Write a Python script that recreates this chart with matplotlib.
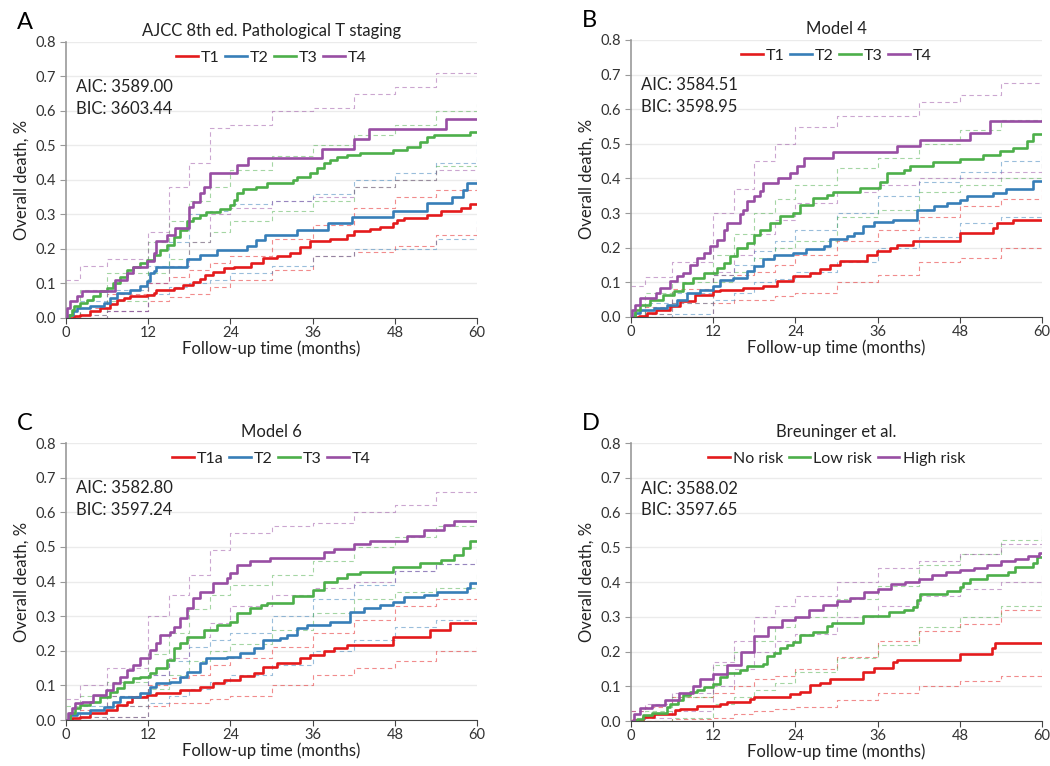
import matplotlib
matplotlib.use("Agg")
import matplotlib.pyplot as plt

plt.rcParams['font.family'] = ['Lato', 'DejaVu Sans']

# colours of the four risk groups
red = '#E41A1C'
blue = '#377EB8'
green = '#4DAF4A'
purple = '#984EA3'

# ---- panel A : AJCC 8th ed. ----
a_t1_t = [0, 1.1, 2, 3.5, 5, 6.4, 7.4, 8.4, 9.4, 11.8, 12.8, 13.2, 15.7, 17.1, 18.6, 19.6, 20.3, 21.5, 23, 24.5,
          27, 28.8, 30.8, 32.7, 34.2, 35.6, 38.6, 41, 42, 44.4, 45.9, 47.8, 48.3, 49.3, 52.7, 54.7, 57.6, 59]
a_t1_y = [0, 0.005, 0.01, 0.02, 0.03, 0.04, 0.053, 0.058, 0.065, 0.068, 0.072, 0.082, 0.087, 0.096, 0.103, 0.113, 0.125, 0.132, 0.145, 0.149,
          0.159, 0.173, 0.18, 0.188, 0.207, 0.222, 0.228, 0.241, 0.251, 0.257, 0.265, 0.275, 0.284, 0.289, 0.299, 0.311, 0.318, 0.331]
a_t2_t = [0, 0.5, 1, 1.6, 3.5, 5.5, 6.4, 7.4, 9.4, 10.8, 11.8, 12.3, 12.8, 13.2, 17.6, 19.6, 22, 26.4, 27.8, 29,
          33.7, 38.3, 41.7, 47.8, 52.7, 56.4, 58, 58.6]
a_t2_y = [0, 0.01, 0.02, 0.029, 0.036, 0.043, 0.058, 0.072, 0.082, 0.092, 0.106, 0.13, 0.135, 0.149, 0.171, 0.183, 0.198, 0.209, 0.227, 0.241,
          0.255, 0.275, 0.292, 0.311, 0.333, 0.352, 0.371, 0.392]
a_t3_t = [0, 0.5, 0.8, 1.1, 2, 3, 4, 5, 6, 6.9, 7.9, 8.9, 9.8, 10.8, 11.8, 12.8, 13.7, 14.7, 15.7, 16.7,
          17.6, 18.6, 19.6, 20.5, 22.5, 24, 24.5, 25, 25.9, 27.8, 29.3, 33.2, 33.7, 35.6, 36.6, 37.6, 38.6, 39.5, 41, 42.9,
          47.8, 49.8, 51.7, 52.7, 53.7, 59]
a_t3_y = [0, 0.01, 0.024, 0.035, 0.043, 0.053, 0.063, 0.077, 0.087, 0.1, 0.12, 0.14, 0.149, 0.159, 0.169, 0.183, 0.198, 0.212, 0.236, 0.255,
          0.28, 0.289, 0.299, 0.308, 0.315, 0.328, 0.342, 0.361, 0.373, 0.381, 0.392, 0.4, 0.41, 0.419, 0.434, 0.448, 0.458, 0.467, 0.472, 0.477,
          0.487, 0.496, 0.511, 0.525, 0.53, 0.54]
a_t4_t = [0, 0.2, 0.6, 1.6, 2.3, 7.2, 8.9, 9.8, 11.8, 12.8, 13.2, 14.7, 15.9, 17.9, 18.6, 19.6, 20.1, 21, 25, 26.6,
          37.4, 42, 44.2, 55.4]
a_t4_y = [0, 0.03, 0.048, 0.063, 0.077, 0.11, 0.13, 0.149, 0.164, 0.188, 0.222, 0.241, 0.26, 0.321, 0.337, 0.361, 0.381, 0.421, 0.443, 0.465,
          0.489, 0.518, 0.547, 0.578]

# confidence bands, read on a common time grid
ci_t = [0, 2, 6, 12, 15, 18, 21, 24, 30, 36, 42, 48, 54, 60]
a_t1_lo = [0, 0, 0.02, 0.05, 0.06, 0.07, 0.09, 0.11, 0.14, 0.18, 0.19, 0.21, 0.24, 0.27]
a_t1_hi = [0, 0.03, 0.07, 0.1, 0.12, 0.14, 0.16, 0.18, 0.23, 0.27, 0.32, 0.35, 0.37, 0.40]
a_t2_lo = [0, 0, 0.02, 0.07, 0.09, 0.1, 0.11, 0.13, 0.15, 0.18, 0.2, 0.2, 0.23, 0.28]
a_t2_hi = [0, 0.05, 0.08, 0.15, 0.22, 0.3, 0.31, 0.33, 0.34, 0.36, 0.4, 0.42, 0.45, 0.52]
a_t3_lo = [0, 0.01, 0.05, 0.13, 0.17, 0.22, 0.25, 0.28, 0.31, 0.34, 0.38, 0.4, 0.44, 0.46]
a_t3_hi = [0, 0.08, 0.13, 0.22, 0.28, 0.34, 0.38, 0.43, 0.47, 0.5, 0.53, 0.56, 0.6, 0.62]
a_t4_lo = [0, 0.01, 0.02, 0.1, 0.15, 0.22, 0.3, 0.32, 0.34, 0.35, 0.38, 0.4, 0.43, 0.43]
a_t4_hi = [0.11, 0.15, 0.17, 0.25, 0.38, 0.45, 0.55, 0.56, 0.6, 0.61, 0.65, 0.67, 0.71, 0.71]

# ---- panel B : Model 4 ----
b_t1_t = [0, 1.1, 2.3, 3.7, 5.7, 7.2, 9.3, 12, 13, 16.4, 19.3, 21.3, 23.7, 26.1, 27.6, 29, 30.5, 34.4, 35.9, 37.8,
          38.8, 41.2, 48, 52.9, 53.4, 55.8]
b_t1_y = [0, 0.004, 0.012, 0.021, 0.031, 0.045, 0.063, 0.074, 0.079, 0.084, 0.09, 0.103, 0.117, 0.127, 0.139, 0.151, 0.161, 0.18, 0.19, 0.199,
          0.209, 0.219, 0.243, 0.257, 0.27, 0.281]
b_t2_t = [0, 0.6, 1.3, 3.3, 5.2, 6.7, 8.1, 10, 12, 13, 14.9, 16.9, 17.9, 19.3, 20.8, 23.7, 25.6, 28.1, 29, 31.5,
          32.5, 33.9, 35.4, 38.3, 41.7, 44.2, 46.1, 48, 49, 52.9, 54.8, 58.7]
b_t2_y = [0, 0.012, 0.021, 0.026, 0.036, 0.05, 0.069, 0.079, 0.089, 0.108, 0.113, 0.132, 0.146, 0.166, 0.18, 0.185, 0.196, 0.204, 0.225, 0.233,
          0.243, 0.262, 0.273, 0.281, 0.31, 0.32, 0.329, 0.339, 0.348, 0.358, 0.371, 0.392]
b_t3_t = [0, 0.6, 1.3, 2.8, 4.7, 6.2, 7.6, 9.1, 10.6, 12.5, 13.5, 14.5, 15.4, 16.9, 17.9, 18.8, 20.3, 21.8, 23.7, 24.7,
          26.6, 28.6, 29.5, 33.4, 36.3, 37.3, 39.8, 40.7, 44.1, 48, 51.4, 53.9, 55.8, 57.8, 58.7]
b_t3_y = [0, 0.021, 0.036, 0.05, 0.064, 0.074, 0.098, 0.113, 0.127, 0.142, 0.156, 0.175, 0.199, 0.214, 0.238, 0.252, 0.271, 0.291, 0.3, 0.322,
          0.344, 0.353, 0.36, 0.373, 0.389, 0.416, 0.425, 0.435, 0.447, 0.456, 0.469, 0.478, 0.488, 0.507, 0.529]
b_t4_t = [0, 0.2, 0.6, 1.3, 3.7, 4.2, 5.7, 6.7, 7.6, 8.6, 9.6, 10.6, 11.5, 12.5, 13.5, 14, 15.9, 16.4, 16.9, 17.9,
          18.8, 19.3, 21.5, 23.2, 24.2, 25.2, 29.5, 38.8, 42.2, 49.5, 52.4]
b_t4_y = [0, 0.021, 0.036, 0.055, 0.069, 0.084, 0.103, 0.117, 0.127, 0.151, 0.17, 0.185, 0.204, 0.223, 0.252, 0.271, 0.296, 0.31, 0.334, 0.348,
          0.363, 0.387, 0.401, 0.416, 0.435, 0.459, 0.476, 0.493, 0.512, 0.531, 0.566]
b_t1_lo = [0, 0, 0, 0.04, 0.05, 0.05, 0.06, 0.07, 0.1, 0.12, 0.16, 0.17, 0.2, 0.205]
b_t1_hi = [0, 0.03, 0.08, 0.12, 0.12, 0.13, 0.15, 0.18, 0.22, 0.25, 0.29, 0.32, 0.34, 0.37]
b_t2_lo = [0, 0, 0.01, 0.05, 0.07, 0.1, 0.11, 0.13, 0.16, 0.2, 0.23, 0.27, 0.29, 0.31]
b_t2_hi = [0, 0.04, 0.07, 0.12, 0.15, 0.19, 0.22, 0.25, 0.3, 0.35, 0.39, 0.42, 0.45, 0.48]
b_t3_lo = [0, 0.01, 0.04, 0.1, 0.13, 0.17, 0.2, 0.22, 0.29, 0.31, 0.36, 0.38, 0.4, 0.45]
b_t3_hi = [0, 0.07, 0.1, 0.18, 0.24, 0.3, 0.34, 0.38, 0.43, 0.46, 0.5, 0.54, 0.57, 0.61]
b_t4_lo = [0, 0.01, 0.04, 0.13, 0.18, 0.24, 0.28, 0.33, 0.36, 0.38, 0.4, 0.4, 0.42, 0.45]
b_t4_hi = [0.09, 0.115, 0.16, 0.3, 0.37, 0.45, 0.5, 0.55, 0.58, 0.58, 0.62, 0.64, 0.675, 0.675]

# ---- panel C : Model 6 ----
c_t1_t = [0, 0.8, 2, 3.5, 5.9, 7.4, 8.9, 9.6, 11.8, 13.2, 16.7, 19.6, 21.5, 23, 25.4, 27.4, 28.8, 30.8, 34.2, 35.6,
          37.6, 39.1, 41, 47.8, 53.2, 56.1]
c_t1_y = [0, 0.005, 0.01, 0.019, 0.029, 0.043, 0.053, 0.067, 0.072, 0.077, 0.087, 0.096, 0.106, 0.116, 0.127, 0.137, 0.154, 0.164, 0.178, 0.188,
          0.198, 0.207, 0.217, 0.241, 0.26, 0.28]
c_t2_t = [0, 0.6, 1.6, 3.5, 5.5, 6.9, 7.9, 10.8, 12.3, 13.2, 15.2, 16.7, 17.6, 19.6, 20.5, 23.5, 25.4, 27.4, 28.8, 31.3,
          32.3, 33.7, 35.2, 38.6, 41.5, 43.5, 45.9, 47.8, 49.3, 52.3, 54.2, 58.6, 59]
c_t2_y = [0, 0.014, 0.021, 0.029, 0.037, 0.053, 0.067, 0.077, 0.096, 0.106, 0.111, 0.125, 0.14, 0.164, 0.178, 0.183, 0.193, 0.207, 0.231, 0.236,
          0.246, 0.265, 0.275, 0.284, 0.313, 0.323, 0.333, 0.342, 0.355, 0.361, 0.371, 0.381, 0.395]
c_t3_t = [0, 0.6, 1.3, 2, 3.5, 5, 6.4, 7.4, 8.4, 9.8, 10.8, 12.3, 13.2, 14.7, 15.7, 16.7, 17.6, 20.1, 22, 24,
          25, 26.9, 28.4, 29.3, 33.2, 36.1, 37.6, 39.5, 41, 42.9, 47.8, 51.7, 54.7, 56.6, 58, 59]
c_t3_y = [0, 0.019, 0.034, 0.043, 0.053, 0.067, 0.082, 0.092, 0.111, 0.12, 0.125, 0.135, 0.149, 0.173, 0.207, 0.222, 0.241, 0.26, 0.275, 0.284,
          0.308, 0.323, 0.333, 0.339, 0.357, 0.376, 0.4, 0.41, 0.422, 0.429, 0.443, 0.453, 0.463, 0.477, 0.496, 0.516]
c_t4_t = [0, 0.3, 0.8, 1.3, 2.3, 4, 5.9, 6.9, 7.9, 8.9, 9.8, 10.8, 12.3, 13.2, 13.7, 15.2, 15.7, 16.7, 17.6, 18.6,
          19.6, 21.5, 23.5, 24, 25, 26.9, 29.8, 37.6, 39.1, 42, 44.4, 49.8, 52.3, 55.2, 56.6]
c_t4_y = [0, 0.019, 0.034, 0.048, 0.053, 0.072, 0.087, 0.106, 0.125, 0.145, 0.159, 0.178, 0.202, 0.222, 0.246, 0.255, 0.27, 0.294, 0.323, 0.352,
          0.371, 0.397, 0.41, 0.424, 0.448, 0.46, 0.469, 0.484, 0.494, 0.508, 0.518, 0.531, 0.549, 0.564, 0.575]
c_t1_lo = [0, 0, 0.01, 0.04, 0.05, 0.05, 0.06, 0.07, 0.1, 0.13, 0.15, 0.17, 0.2, 0.21]
c_t1_hi = [0, 0.03, 0.07, 0.1, 0.12, 0.13, 0.16, 0.18, 0.21, 0.25, 0.29, 0.33, 0.35, 0.37]
c_t2_lo = [0, 0, 0.01, 0.05, 0.07, 0.09, 0.11, 0.13, 0.16, 0.2, 0.23, 0.27, 0.29, 0.315]
c_t2_hi = [0, 0.04, 0.07, 0.13, 0.17, 0.21, 0.23, 0.25, 0.3, 0.35, 0.39, 0.43, 0.45, 0.47]
c_t3_lo = [0, 0.01, 0.04, 0.09, 0.13, 0.17, 0.2, 0.22, 0.26, 0.31, 0.35, 0.37, 0.38, 0.43]
c_t3_hi = [0.04, 0.07, 0.11, 0.19, 0.25, 0.32, 0.36, 0.39, 0.42, 0.46, 0.5, 0.53, 0.56, 0.6]
c_t4_lo = [0, 0.01, 0.04, 0.13, 0.18, 0.24, 0.28, 0.33, 0.36, 0.38, 0.4, 0.43, 0.45, 0.475]
c_t4_hi = [0.06, 0.1, 0.15, 0.3, 0.36, 0.42, 0.49, 0.54, 0.56, 0.57, 0.6, 0.62, 0.66, 0.67]

# ---- panel D : Breuninger ----
d_no_t = [0, 0.3, 1.8, 3.3, 6.4, 7.2, 9.6, 13, 14, 17.4, 17.9, 23.2, 24.7, 26.1, 27.6, 29.1, 33.9, 35.4, 38.3, 38.8,
          48, 52.7, 53.2]
d_no_y = [0, 0.004, 0.012, 0.021, 0.031, 0.036, 0.042, 0.05, 0.055, 0.064, 0.069, 0.077, 0.084, 0.103, 0.11, 0.12, 0.141, 0.154, 0.17, 0.177,
          0.192, 0.209, 0.225]
d_low_t = [0, 0.8, 1.8, 3, 5.2, 5.7, 6.9, 7.6, 8.6, 9.6, 10.6, 12, 13, 14, 15.9, 16.9, 19.3, 19.8, 20.8, 21.8,
           22.8, 23.7, 24.7, 26.6, 28.6, 29.3, 33.9, 37.7, 39.8, 41.2, 41.7, 42.2, 46.1, 48, 48.5, 49.5, 52, 55, 56, 58.7, 59.2]
d_low_y = [0, 0.007, 0.016, 0.023, 0.04, 0.05, 0.06, 0.074, 0.084, 0.088, 0.098, 0.108, 0.127, 0.137, 0.148, 0.158, 0.165, 0.187, 0.196, 0.209,
           0.218, 0.228, 0.247, 0.257, 0.273, 0.283, 0.302, 0.314, 0.319, 0.328, 0.348, 0.365, 0.375, 0.387, 0.396, 0.408, 0.42, 0.43, 0.444, 0.454, 0.473]
d_high_t = [0, 0.5, 1.3, 3, 5, 7, 9, 10, 12, 14, 16, 18, 20, 22, 24, 26, 28, 30, 32, 34,
            36, 38, 40, 42, 44, 46, 48, 50, 52, 54, 56, 58, 59.5]
d_high_y = [0, 0.02, 0.038, 0.045, 0.06, 0.08, 0.1, 0.12, 0.135, 0.16, 0.2, 0.245, 0.27, 0.29, 0.3, 0.32, 0.335, 0.345, 0.355, 0.37,
            0.38, 0.395, 0.4, 0.41, 0.42, 0.43, 0.435, 0.44, 0.45, 0.46, 0.465, 0.475, 0.485]
d_no_lo = [0, 0, 0.005, 0.01, 0.02, 0.03, 0.035, 0.04, 0.06, 0.08, 0.1, 0.115, 0.13, 0.15]
d_no_hi = [0.03, 0.04, 0.07, 0.08, 0.1, 0.12, 0.13, 0.15, 0.185, 0.23, 0.26, 0.28, 0.32, 0.32]
d_low_lo = [0, 0, 0.01, 0.05, 0.07, 0.09, 0.11, 0.14, 0.18, 0.22, 0.27, 0.3, 0.33, 0.4]
d_low_hi = [0, 0.03, 0.07, 0.16, 0.2, 0.23, 0.27, 0.3, 0.35, 0.39, 0.45, 0.48, 0.52, 0.565]
d_high_lo = [0, 0.01, 0.03, 0.1, 0.15, 0.2, 0.23, 0.25, 0.3, 0.33, 0.36, 0.38, 0.4, 0.42]
d_high_hi = [0.03, 0.05, 0.08, 0.17, 0.23, 0.3, 0.33, 0.36, 0.4, 0.44, 0.46, 0.48, 0.51, 0.545]

xticks = [0, 12, 24, 36, 48, 60]
yticks = [0.0, 0.1, 0.2, 0.3, 0.4, 0.5, 0.6, 0.7, 0.8]


def draw_panel(ax, letter, title, curves, aic, bic):
    for lab, col, t, y, lo, hi in curves:
        ax.step(ci_t, lo, where='post', color=col, lw=0.8, alpha=0.5, dashes=(4, 3), zorder=2)
        ax.step(ci_t, hi, where='post', color=col, lw=0.8, alpha=0.5, dashes=(4, 3), zorder=2)
        ax.step(t + [60], y + [y[-1]], where='post', color=col, lw=1.9, label=lab, zorder=3)
    ax.set_xlim(0, 60)
    ax.set_ylim(0, 0.8)
    ax.set_xticks(xticks)
    ax.set_yticks(yticks)
    ax.set_yticklabels(['%.1f' % v for v in yticks])
    ax.grid(axis='y', color='#ebebeb', lw=1)
    ax.set_axisbelow(True)
    for s in ['top', 'right']:
        ax.spines[s].set_visible(False)
    ax.spines['left'].set_color('#999999')
    ax.spines['left'].set_linewidth(1.2)
    ax.spines['bottom'].set_color('#444444')
    ax.tick_params(axis='y', colors='#999999', labelcolor='#333333', labelsize=10.5, length=4)
    ax.tick_params(axis='x', colors='#444444', labelcolor='#333333', labelsize=10.5, length=4, pad=2)
    ax.set_xlabel('Follow-up time (months)', fontsize=12, color='#222222', labelpad=0)
    ax.set_ylabel('Overall death, %', fontsize=12, color='#222222', labelpad=4)
    ax.set_title(title, fontsize=12, color='#222222', pad=4)
    ax.legend(loc='upper center', bbox_to_anchor=(0.5, 1.02), ncol=len(curves), frameon=False,
              fontsize=11.5, handlelength=1.35, handletextpad=0.2, columnspacing=0.35, labelcolor='#222222')
    ax.text(0.025, 0.865, 'AIC: %s\nBIC: %s' % (aic, bic), transform=ax.transAxes, fontsize=12,
            color='#222222', va='top', ha='left', linespacing=1.45)
    pos = ax.get_position()
    ax.figure.text(pos.x0 - 0.047, pos.y1 + 0.012, letter, fontsize=17, color='black', ha='left', va='bottom')


fig = plt.figure(figsize=(10.5, 7.66), dpi=100)
axA = fig.add_axes([0.0629, 0.5849, 0.3914, 0.3603])
axB = fig.add_axes([0.6010, 0.5862, 0.3914, 0.3616])
axC = fig.add_axes([0.0629, 0.0600, 0.3914, 0.3616])
axD = fig.add_axes([0.6010, 0.0587, 0.3914, 0.3629])

draw_panel(axA, 'A', 'AJCC 8th ed. Pathological T staging', [
    ('T1', red, a_t1_t, a_t1_y, a_t1_lo, a_t1_hi),
    ('T2', blue, a_t2_t, a_t2_y, a_t2_lo, a_t2_hi),
    ('T3', green, a_t3_t, a_t3_y, a_t3_lo, a_t3_hi),
    ('T4', purple, a_t4_t, a_t4_y, a_t4_lo, a_t4_hi)], '3589.00', '3603.44')

draw_panel(axB, 'B', 'Model 4', [
    ('T1', red, b_t1_t, b_t1_y, b_t1_lo, b_t1_hi),
    ('T2', blue, b_t2_t, b_t2_y, b_t2_lo, b_t2_hi),
    ('T3', green, b_t3_t, b_t3_y, b_t3_lo, b_t3_hi),
    ('T4', purple, b_t4_t, b_t4_y, b_t4_lo, b_t4_hi)], '3584.51', '3598.95')

draw_panel(axC, 'C', 'Model 6', [
    ('T1a', red, c_t1_t, c_t1_y, c_t1_lo, c_t1_hi),
    ('T2', blue, c_t2_t, c_t2_y, c_t2_lo, c_t2_hi),
    ('T3', green, c_t3_t, c_t3_y, c_t3_lo, c_t3_hi),
    ('T4', purple, c_t4_t, c_t4_y, c_t4_lo, c_t4_hi)], '3582.80', '3597.24')

draw_panel(axD, 'D', 'Breuninger et al.', [
    ('No risk', red, d_no_t, d_no_y, d_no_lo, d_no_hi),
    ('Low risk', green, d_low_t, d_low_y, d_low_lo, d_low_hi),
    ('High risk', purple, d_high_t, d_high_y, d_high_lo, d_high_hi)], '3588.02', '3597.65')

fig.savefig('out.png', dpi=100)
